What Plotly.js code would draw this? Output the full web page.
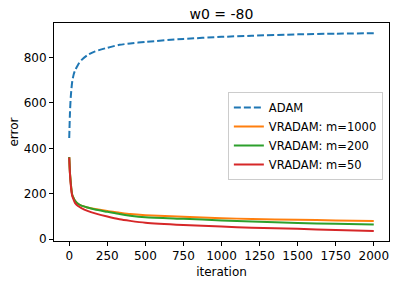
<!DOCTYPE html>
<html>
<head>
<meta charset="utf-8">
<script src="https://cdn.plot.ly/plotly-3.0.1.min.js"></script>
<style>html,body{margin:0;padding:0;background:#fff;}#chart{width:395px;height:285px;}</style>
</head>
<body>
<div id="chart"></div>
<script>
const iterations = [0,5,10,15,20,30,40,60,80,120,170,250,330,400,500,750,1000,1200,1500,1750,2000];
const adam      = [445,560,625,665,695,727,745,770,788,810,826,842,855,861,868,881,890,895,901,904,906];
const vr1000    = [362,290,250,215,195,180,168,155,148,140,133,124,117,111,106,99,93,89,86,83,80];
const vr200     = [362,290,250,215,195,180,168,155,148,140,131,121,111,104,97,90,83,78,72,68,65];
const vr50      = [360,285,240,210,190,172,158,145,137,125,114,100,88,81,73,63,56,51,46,41,37];
const seriesNames = ["ADAM","VRADAM: m=1000","VRADAM: m=200","VRADAM: m=50"];
const xTicks = [0,250,500,750,1000,1250,1500,1750,2000];
const yTicks = [0,200,400,600,800];

const font = "DejaVu Sans";
const data = [
  {x: iterations, y: adam, name: seriesNames[0], mode: "lines", line: {color: "#1f77b4", width: 2, dash: "7px,3px", shape: "spline", smoothing: 0.6}},
  {x: iterations, y: vr1000, name: seriesNames[1], mode: "lines", line: {color: "#ff7f0e", width: 2, shape: "spline", smoothing: 0.6}},
  {x: iterations, y: vr200, name: seriesNames[2], mode: "lines", line: {color: "#2ca02c", width: 2, shape: "spline", smoothing: 0.6}},
  {x: iterations, y: vr50, name: seriesNames[3], mode: "lines", line: {color: "#d62728", width: 2, shape: "spline", smoothing: 0.6}}
];
const axisCommon = {
  showline: true, mirror: true, linecolor: "#000", linewidth: 1,
  ticks: "outside", ticklen: 4, tickcolor: "#000", tickwidth: 1,
  showgrid: false, zeroline: false, automargin: false,
  tickfont: {family: font, size: 12, color: "#000"}
};
const layout = {
  width: 395, height: 285,
  margin: {l: 54, r: 6, t: 23, b: 44},
  paper_bgcolor: "#fff", plot_bgcolor: "#fff",
  font: {family: font, color: "#000"},
  title: {text: "w0 = -80", font: {family: font, size: 14, color: "#000"}, x: 0.5, xref: "paper", y: 1, yref: "paper", yanchor: "bottom", pad: {b: 4}, automargin: false},
  xaxis: Object.assign({}, axisCommon, {range: [-100, 2100], tickvals: xTicks, ticktext: xTicks.map(String),
    title: {text: "iteration", font: {family: font, size: 12, color: "#000"}, standoff: 5}}),
  yaxis: Object.assign({}, axisCommon, {range: [-7.5, 951], tickvals: yTicks, ticktext: yTicks.map(String),
    title: {text: "error", font: {family: font, size: 12, color: "#000"}, standoff: 2}}),
  legend: {x: 0.519, y: 0.683, xanchor: "left", yanchor: "top", bgcolor: "rgba(255,255,255,0.8)",
    bordercolor: "#cccccc", borderwidth: 1, font: {family: font, size: 11.5, color: "#000"}, itemwidth: 30, tracegroupgap: 0},
  showlegend: true
};
Plotly.newPlot("chart", data, layout, {staticPlot: true, displayModeBar: false});
</script>
</body>
</html>
